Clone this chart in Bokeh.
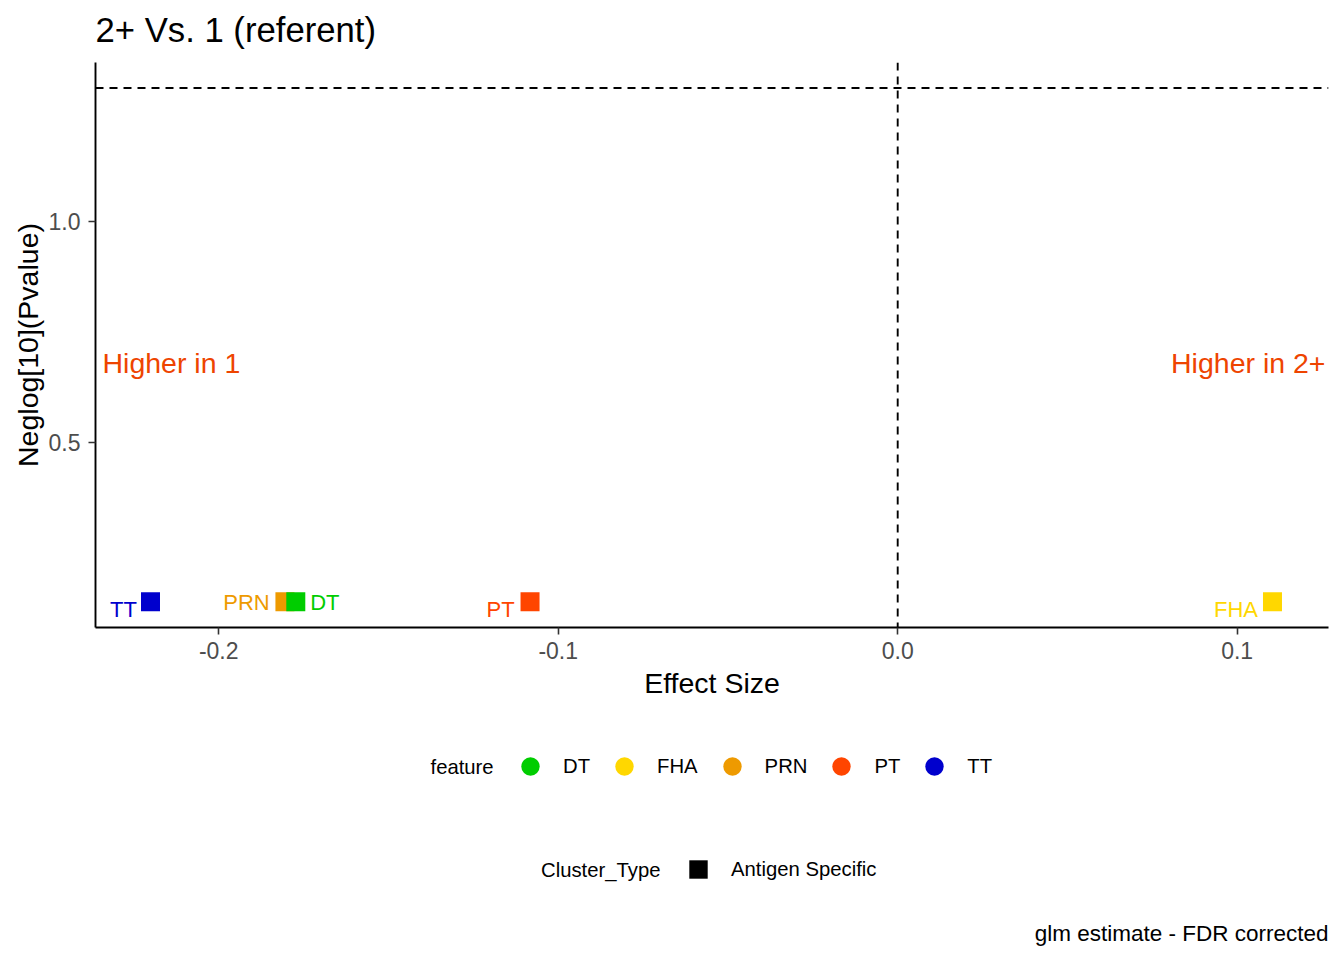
from bokeh.plotting import figure
from bokeh.layouts import column
from bokeh.models import (ColumnDataSource, Range1d, FixedTicker, NumeralTickFormatter,
                          Span, Label, Legend, LegendItem)
from bokeh.embed import file_html
from bokeh.resources import INLINE
from bokeh.core.properties import value

# ---------------- data ----------------
features = ["PRN", "DT", "FHA", "PT", "TT"]          # draw order (DT drawn over PRN)
effect_size = [-0.1805, -0.1773, 0.1104, -0.1083, -0.2201]
neglog_p = [0.140, 0.140, 0.140, 0.140, 0.140]
cluster_type = ["Antigen Specific"] * 5
legend_order = ["DT", "FHA", "PRN", "PT", "TT"]
cluster_types = ["Antigen Specific"]
x_ticks = [-0.2, -0.1, 0.0, 0.1]
y_ticks = [0.5, 1.0]
sig_threshold = 1.30103   # -log10(0.05)
effect_zero = 0.0
x_limits = (-0.2363, 0.1269)
y_limits = (0.082, 1.3586)
annot_y = 0.68

# ---------------- styles ----------------
feature_colors = {"DT": "#00CD00", "FHA": "#FFD700", "PRN": "#EE9A00",
                  "PT": "#FF4500", "TT": "#0000CD"}
label_dx = {"PRN": -38.5, "DT": 29, "FHA": -36.5, "PT": -29.5, "TT": -27}
label_dy = {"PRN": 0.6, "DT": 0.6, "FHA": 7.6, "PT": 7.6, "TT": 7.6}
FONT = "Liberation Sans"
ANNOT_COLOR = "#EE4400"
LEG_FONT = "20.3px"

src = ColumnDataSource(dict(
    x=effect_size, y=neglog_p, feature=features, ctype=cluster_type,
    color=[feature_colors[f] for f in features],
    dx=[label_dx[f] for f in features],
    dy=[label_dy[f] for f in features],
))

W = 1336
H0 = 62          # title strip
H1 = 656         # plot
H2 = 234         # legends + caption
BL, BR = 95, 8
FRAME_H = 565


def blank_fig(h):
    f = figure(width=W, height=h, output_backend="svg", toolbar_location=None,
               x_range=Range1d(0, 1), y_range=Range1d(0, 1),
               x_axis_location=None, y_axis_location=None,
               min_border_left=BL, min_border_right=BR, min_border_top=0,
               min_border_bottom=0)
    f.outline_line_color = None
    f.xgrid.visible = False
    f.ygrid.visible = False
    try:
        f.title = None
    except Exception:
        f.title.text = ""
    return f

# ---------------- title strip ----------------
z = blank_fig(H0)
z.add_layout(Label(x=0, y=32.3, x_units="screen", y_units="screen",
                   text="2+ Vs. 1 (referent)", text_font=FONT,
                   text_font_size="34.7px", text_color="black",
                   text_align="left", text_baseline="middle"))

# ---------------- main plot ----------------
p = figure(width=W, height=H1, output_backend="svg", toolbar_location=None,
           x_range=Range1d(*x_limits), y_range=Range1d(*y_limits),
           min_border_left=BL, min_border_right=BR, min_border_top=0,
           min_border_bottom=H1 - FRAME_H)
try:
    p.title = None
except Exception:
    p.title.text = ""
p.outline_line_color = None
p.xgrid.visible = False
p.ygrid.visible = False
p.background_fill_color = "white"

for ax in (p.xaxis[0], p.yaxis[0]):
    ax.axis_line_color = "black"
    ax.axis_line_width = 1.9
    ax.major_tick_line_color = "#333333"
    ax.major_tick_line_width = 1.6
    ax.major_tick_out = 7
    ax.major_tick_in = 0
    ax.minor_tick_line_color = None
    ax.major_label_text_font = FONT
    ax.major_label_text_font_size = "23px"
    ax.major_label_text_color = "#4D4D4D"
    ax.axis_label_text_font = FONT
    ax.axis_label_text_font_size = "28.5px"
    ax.axis_label_text_font_style = "normal"
    ax.axis_label_text_color = "black"
    ax.formatter = NumeralTickFormatter(format="0.0")

p.xaxis.ticker = FixedTicker(ticks=x_ticks)
p.yaxis.ticker = FixedTicker(ticks=y_ticks)
p.xaxis.axis_label = "Effect Size"
p.yaxis.axis_label = "Neglog[10](Pvalue)"
p.xaxis.major_label_standoff = 7
p.xaxis.axis_label_standoff = 5
p.yaxis.major_label_standoff = 8
p.yaxis.axis_label_standoff = 2

# reference lines
p.add_layout(Span(location=sig_threshold, dimension="width", line_color="black",
                  line_width=1.9, line_dash="8 6"))
p.add_layout(Span(location=effect_zero, dimension="height", line_color="black",
                  line_width=1.9, line_dash="8 6"))

# points
p.scatter("x", "y", source=src, marker="square", size=19,
          fill_color="color", line_color="color", line_width=0)

# point labels
p.text("x", "y", text="feature", source=src, x_offset="dx", y_offset="dy",
       text_color="color", text_font=value(FONT), text_font_size="22px",
       text_align="center", text_baseline="middle")

# region annotations
p.add_layout(Label(x=x_limits[0], y=annot_y, x_offset=7, text="Higher in 1",
                   text_font=FONT, text_font_size="28.5px", text_color=ANNOT_COLOR,
                   text_align="left", text_baseline="middle"))
p.add_layout(Label(x=x_limits[1], y=annot_y, x_offset=-3, text="Higher in 2+",
                   text_font=FONT, text_font_size="28.5px", text_color=ANNOT_COLOR,
                   text_align="right", text_baseline="middle"))

# ---------------- legend / caption strip ----------------
q = blank_fig(H2)

# zero-size swatch renderers (only their legend glyphs are visible)
q_src = ColumnDataSource(dict(x=[0.5] * len(legend_order), y=[0.5] * len(legend_order),
                              color=[feature_colors[f] for f in legend_order]))
feat_r = q.scatter("x", "y", source=q_src, marker="circle", size=0,
                   fill_color="color", line_color=None)
ct_src = ColumnDataSource(dict(x=[0.5], y=[0.5]))
ct_r = q.scatter("x", "y", source=ct_src, marker="square", size=0,
                 fill_color="black", line_color=None)

common = dict(orientation="horizontal", glyph_width=46, glyph_height=46,
              label_standoff=10, spacing=11, padding=0, margin=0,
              border_line_color=None, background_fill_alpha=0,
              label_text_font=FONT, label_text_font_size=LEG_FONT,
              label_text_color="black", label_text_baseline="middle")

leg1 = Legend(items=[LegendItem(label=f, renderers=[feat_r], index=i)
                     for i, f in enumerate(legend_order)],
              location=(412, 163), **common)
leg2 = Legend(items=[LegendItem(label=c, renderers=[ct_r], index=0)
                     for c in cluster_types],
              location=(580, 60), **common)
q.add_layout(leg1, "center")
q.add_layout(leg2, "center")

q.add_layout(Label(x=335, y=186, x_units="screen", y_units="screen", text="feature",
                   text_font=FONT, text_font_size=LEG_FONT, text_color="black",
                   text_align="left", text_baseline="middle"))
q.add_layout(Label(x=445.5, y=83, x_units="screen", y_units="screen", text="Cluster_Type",
                   text_font=FONT, text_font_size=LEG_FONT, text_color="black",
                   text_align="left", text_baseline="middle"))
q.add_layout(Label(x=W - BL - BR, y=19, x_units="screen", y_units="screen",
                   text="glm estimate - FDR corrected",
                   text_font=FONT, text_font_size="22.5px", text_color="black",
                   text_align="right", text_baseline="middle"))

open("out.html", "w").write(file_html(column(z, p, q, spacing=0), INLINE))
